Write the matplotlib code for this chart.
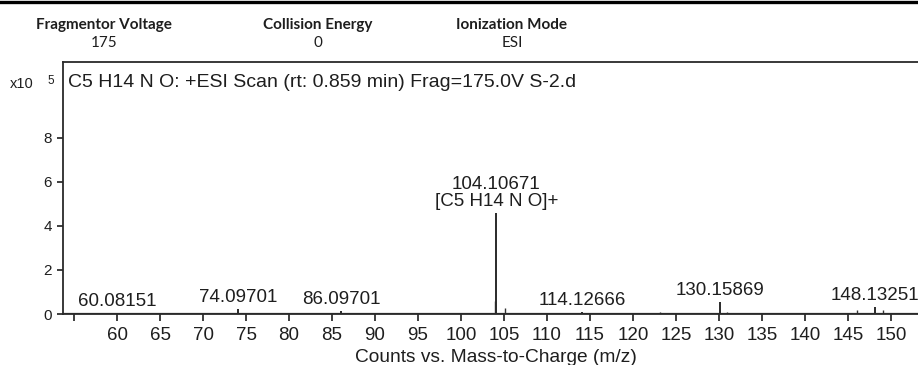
import matplotlib.pyplot as plt
from matplotlib.lines import Line2D

# acquisition parameters shown in the header strip
param_names = ['Fragmentor Voltage', 'Collision Energy', 'Ionization Mode']
param_values = ['175', '0', 'ESI']

scan_title = 'C5 H14 N O: +ESI Scan (rt: 0.859 min) Frag=175.0V S-2.d'

# annotated peaks: m/z, counts (x10^5)
label_mz = [60.08151, 74.09701, 86.09701, 104.10671, 114.12666, 130.15869, 148.13251]
label_counts = [0.03, 0.22, 0.14, 4.6, 0.08, 0.56, 0.33]
label_text = ['60.08151', '74.09701', '86.09701', '104.10671\n[C5 H14 N O]+',
              '114.12666', '130.15869', '148.13251']

# smaller unlabelled centroids
minor_mz = [69.1, 70.0, 71.2, 72.3, 73.1, 75.2, 76.6, 77.8, 79.0, 80.5, 82.1, 83.6,
            87.1, 88.1, 89.0, 93.3, 96.0, 101.0, 102.2, 103.9, 105.1, 106.5, 108.4,
            112.3, 116.2, 123.1, 128.1, 130.9, 131.1, 132.2, 146.1, 149.1]
minor_counts = [0.06, 0.04, 0.05, 0.04, 0.06, 0.05, 0.04, 0.05, 0.04, 0.04, 0.05, 0.04,
                0.06, 0.05, 0.04, 0.04, 0.04, 0.05, 0.06, 0.6, 0.27, 0.05, 0.04,
                0.04, 0.04, 0.1, 0.05, 0.08, 0.06, 0.06, 0.2, 0.18]

xticks = list(range(55, 151, 5))
yticks = [0, 2, 4, 6, 8]

W, H = 918, 365
ink = '#1e1e1e'
plt.rcParams['font.family'] = ['Liberation Sans', 'DejaVu Sans']

fig = plt.figure(figsize=(W / 100, H / 100), dpi=100)

# heavy rule across the top of the page
fig.add_artist(Line2D([0, 1], [1 - 2 / H, 1 - 2 / H], color='black', lw=2.4))

hdr_x = [104, 318, 512]
for x, name, val in zip(hdr_x, param_names, param_values):
    fig.text(x / W, 1 - 29 / H, name, ha='center', va='baseline', fontsize=11,
             fontweight='bold', family=['Lato', 'DejaVu Sans'], color=ink)
    fig.text(x / W, 1 - 47 / H, val, ha='center', va='baseline', fontsize=11,
             family=['Lato', 'DejaVu Sans'], color=ink)

ax = fig.add_axes([63 / W, 51 / H, 860 / W, 252 / H])
ax.vlines(minor_mz, 0, minor_counts, color='#333333', lw=1.0)
ax.vlines(label_mz, 0, label_counts, color='#2a2a2a', lw=1.4)
ax.axhline(0, color='#2a2a2a', lw=1.6)

for mz, c, t in zip(label_mz, label_counts, label_text):
    ax.annotate(t, (mz, c), xytext=(0, 5), textcoords='offset points',
                ha='center', va='baseline', fontsize=13.5, color=ink,
                annotation_clip=False, linespacing=1.0)

ax.set_xlim(53.72, 153.72)
ax.set_ylim(0, 11.45)
ax.set_xticks(xticks)
ax.set_xticklabels(['' if t == 55 else str(t) for t in xticks])
ax.set_yticks(yticks)
ax.tick_params(axis='x', direction='out', length=5, width=1.2, pad=4,
               labelsize=13.5, colors=ink)
ax.tick_params(axis='y', direction='out', length=4, width=1.2, pad=4,
               labelsize=11, colors=ink)
ax.spines['right'].set_visible(False)
for s in ['left', 'top', 'bottom']:
    ax.spines[s].set_color('#2a2a2a')
    ax.spines[s].set_linewidth(1.3)

fig.text(68 / W, 1 - 87 / H, scan_title, ha='left', va='baseline', fontsize=14, color=ink)
fig.text(10 / W, 1 - 88 / H, 'x10', ha='left', va='baseline', fontsize=10.5, color=ink)
fig.text(47 / W, 1 - 84 / H, '5', ha='left', va='baseline', fontsize=8.5, color=ink)
fig.text(496 / W, 1 - 357 / H, 'Counts vs. Mass-to-Charge (m/z)', ha='center',
         va='center', fontsize=13.8, color=ink)

fig.savefig('out.png', dpi=100)
